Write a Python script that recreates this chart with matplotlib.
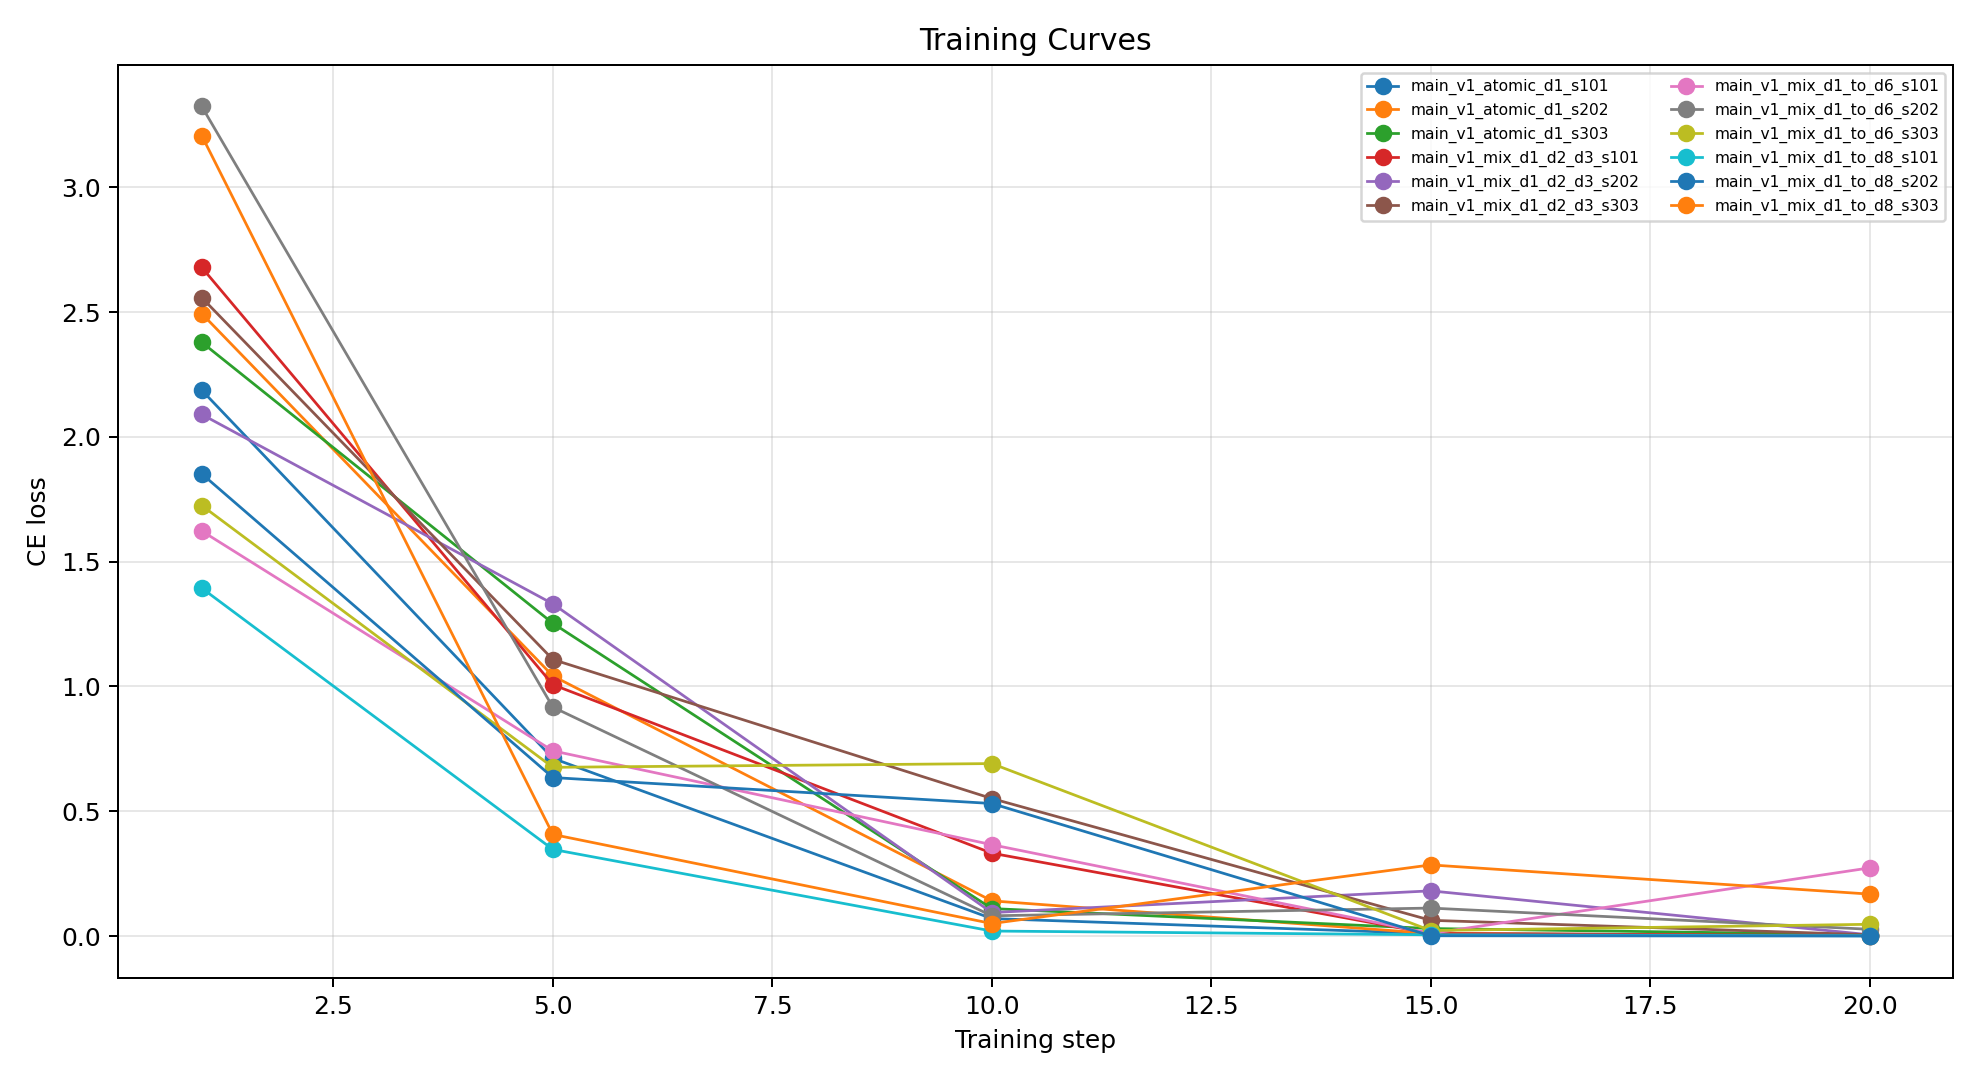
import matplotlib
matplotlib.use('Agg')
import matplotlib.pyplot as plt

# Training steps where the CE loss was logged
steps = [1, 5, 10, 15, 20]

# Run names, in legend order
run_names = [
    'main_v1_atomic_d1_s101',
    'main_v1_atomic_d1_s202',
    'main_v1_atomic_d1_s303',
    'main_v1_mix_d1_d2_d3_s101',
    'main_v1_mix_d1_d2_d3_s202',
    'main_v1_mix_d1_d2_d3_s303',
    'main_v1_mix_d1_to_d6_s101',
    'main_v1_mix_d1_to_d6_s202',
    'main_v1_mix_d1_to_d6_s303',
    'main_v1_mix_d1_to_d8_s101',
    'main_v1_mix_d1_to_d8_s202',
    'main_v1_mix_d1_to_d8_s303',
]

# CE loss per run, one value per step
atomic_d1_s101 = [2.187, 0.712, 0.070, 0.010, 0.002]
atomic_d1_s202 = [2.494, 1.042, 0.141, 0.010, 0.002]
atomic_d1_s303 = [2.379, 1.253, 0.110, 0.030, 0.005]
mix_d1_d2_d3_s101 = [2.679, 1.007, 0.332, 0.010, 0.002]
mix_d1_d2_d3_s202 = [2.090, 1.331, 0.094, 0.181, 0.005]
mix_d1_d2_d3_s303 = [2.558, 1.108, 0.551, 0.063, 0.005]
mix_d1_to_d6_s101 = [1.623, 0.742, 0.366, 0.010, 0.273]
mix_d1_to_d6_s202 = [3.324, 0.917, 0.081, 0.112, 0.027]
mix_d1_to_d6_s303 = [1.725, 0.676, 0.691, 0.022, 0.047]
mix_d1_to_d8_s101 = [1.394, 0.347, 0.020, 0.005, 0.001]
mix_d1_to_d8_s202 = [1.852, 0.635, 0.531, 0.001, 0.000]
mix_d1_to_d8_s303 = [3.207, 0.407, 0.050, 0.285, 0.168]

losses = [
    atomic_d1_s101, atomic_d1_s202, atomic_d1_s303,
    mix_d1_d2_d3_s101, mix_d1_d2_d3_s202, mix_d1_d2_d3_s303,
    mix_d1_to_d6_s101, mix_d1_to_d6_s202, mix_d1_to_d6_s303,
    mix_d1_to_d8_s101, mix_d1_to_d8_s202, mix_d1_to_d8_s303,
]

# Set up plot
fig, ax = plt.subplots(figsize=(11, 6), dpi=180)

# One line per run
for name, vals in zip(run_names, losses):
    ax.plot(steps, vals, marker='o', linewidth=1.1, label=name)

ax.set_title('Training Curves')
ax.set_xlabel('Training step')
ax.set_ylabel('CE loss')
ax.grid(True, alpha=0.3)
ax.legend(ncol=2, fontsize=6.2, loc='upper right')

fig.tight_layout()
plt.savefig('out.png')
